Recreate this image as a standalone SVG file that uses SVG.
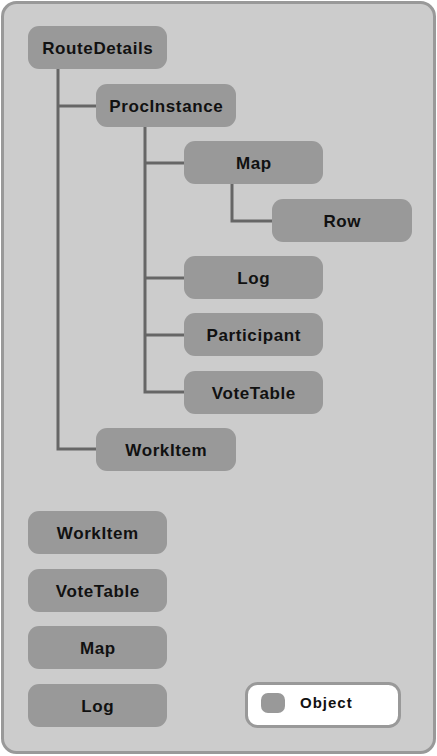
<svg xmlns="http://www.w3.org/2000/svg" width="437" height="756" viewBox="0 0 437 756">
<style>
.node rect{fill:#999999;}
.node text{font-family:"Liberation Sans",Arial,sans-serif;font-size:17px;font-weight:bold;letter-spacing:0.6px;fill:#111111;text-anchor:middle;}
.conn{stroke:#666666;stroke-width:3;fill:none;}
</style>
<rect x="2.5" y="2.5" width="432" height="750" rx="14" fill="#cccccc" stroke="#999999" stroke-width="3"/>
<g id="connectors">
<path class="conn" d="M58 69 V449 H96"/>
<path class="conn" d="M58 106 H96"/>
<path class="conn" d="M145 127 V392 H184"/>
<path class="conn" d="M145 163 H184"/>
<path class="conn" d="M145 278 H184"/>
<path class="conn" d="M145 335 H184"/>
<path class="conn" d="M232 184 V221 H272"/>
</g>
<g id="RouteDetails" class="node"><rect x="28" y="26" width="139" height="43" rx="11"/><text x="97.8" y="54">RouteDetails</text></g>
<g id="ProcInstance" class="node"><rect x="96" y="84" width="140" height="43" rx="11"/><text x="166.3" y="112">ProcInstance</text></g>
<g id="Map" class="node"><rect x="184" y="141" width="139" height="43" rx="11"/><text x="253.8" y="169">Map</text></g>
<g id="Row" class="node"><rect x="272" y="199" width="140" height="43" rx="11"/><text x="342.3" y="227">Row</text></g>
<g id="Log" class="node"><rect x="184" y="256" width="139" height="43" rx="11"/><text x="253.8" y="284">Log</text></g>
<g id="Participant" class="node"><rect x="184" y="313" width="139" height="43" rx="11"/><text x="253.8" y="341">Participant</text></g>
<g id="VoteTable" class="node"><rect x="184" y="371" width="139" height="43" rx="11"/><text x="253.8" y="399">VoteTable</text></g>
<g id="WorkItem" class="node"><rect x="96" y="428" width="140" height="43" rx="11"/><text x="166.3" y="456">WorkItem</text></g>
<g id="WorkItem2" class="node"><rect x="28" y="511" width="139" height="43" rx="11"/><text x="97.8" y="539">WorkItem</text></g>
<g id="VoteTable2" class="node"><rect x="28" y="569" width="139" height="43" rx="11"/><text x="97.8" y="597">VoteTable</text></g>
<g id="Map2" class="node"><rect x="28" y="626" width="139" height="43" rx="11"/><text x="97.8" y="654">Map</text></g>
<g id="Log2" class="node"><rect x="28" y="684" width="139" height="43" rx="11"/><text x="97.8" y="712">Log</text></g>
<g id="legend">
<rect x="246.5" y="683.5" width="153" height="43" rx="11" fill="#ffffff" stroke="#999999" stroke-width="3"/>
<rect x="261" y="693" width="24" height="20" rx="7" fill="#999999"/>
<text x="300" y="708" font-family="'Liberation Sans',Arial,sans-serif" font-size="15" font-weight="bold" letter-spacing="1" fill="#111111">Object</text>
</g>
</svg>
